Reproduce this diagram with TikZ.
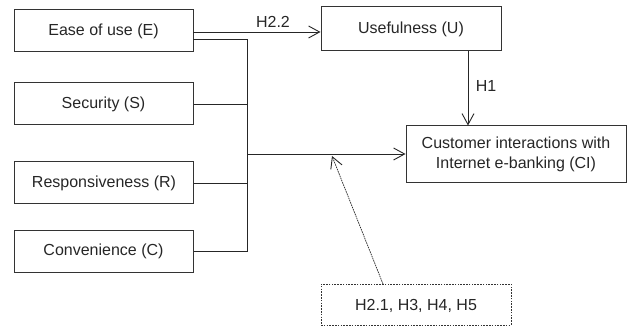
\documentclass[tikz,border=0pt]{standalone}
\usepackage{fontspec}
\setmainfont{Liberation Sans}
\usetikzlibrary{arrows.meta}
\begin{document}
\begin{tikzpicture}[x=1pt,y=-1pt,
  box/.style={draw=black!80,line width=1pt,minimum width=179pt,minimum height=42pt,inner sep=0pt,font=\fontsize{16}{20}\selectfont,text=black!85,align=center},
  dbox/.style={box,draw=black!80,line width=0.8pt,dash pattern=on 1.6pt off 1.2pt},
  conn/.style={draw=black!85,line width=0.9pt},
  arr/.style={conn,-{Straight Barb[length=11pt,width=12pt,line width=0.9pt]}},
  darr/.style={arr,line width=0.7pt,dash pattern=on 1.6pt off 0.8pt},
  lbl/.style={font=\fontsize{16}{20}\selectfont,text=black!85,inner sep=0pt}]
\useasboundingbox (0,0) rectangle (627,326);
\node[box] (E) at (103.5,31) {Ease of use (E)};
\node[box] (S) at (103.5,104) {Security (S)};
\node[box] (R) at (104,183) {Responsiveness (R)};
\node[box] (C) at (103.5,251.5) {Convenience (C)};
\node[box,minimum width=180pt,minimum height=44pt] (U) at (411,29) {Usefulness (U)};
\node[box,minimum width=220pt,minimum height=57pt] (CI) at (516,154.5) {Customer interactions with\\Internet e-banking (CI)};
\node[dbox,minimum width=190pt,minimum height=41pt,text depth=0pt] (H) at (416,304.5) {};
\node[lbl] (Ht) at (416,306) {H2.1, H3, H4, H5};
\coordinate (e1) at (193,32);
\coordinate (e2) at (193,39);
\coordinate (b1) at (247,39);
\coordinate (b2) at (247,251);
\coordinate (bm) at (247,154);
\coordinate (u1) at (468,51);
\coordinate (hit) at (332,156);
\draw[arr] (e1) -- (e1 -| U.west);
\draw[conn] (e2) -- (b1) -- (b2) -- (C.east |- b2);
\draw[conn] (S.east) -- (S.east -| b1);
\draw[conn] (R.east) -- (R.east -| b1);
\draw[arr] (bm) -- (bm -| CI.west);
\draw[arr] (u1) -- (u1 |- CI.north);
\draw[darr] (383,284) coordinate (hs) -- (hit);
\node[lbl] (l1) at (273,22) {H2.2};
\node[lbl] (l2) at (486,86) {H1};
\end{tikzpicture}
\end{document}
